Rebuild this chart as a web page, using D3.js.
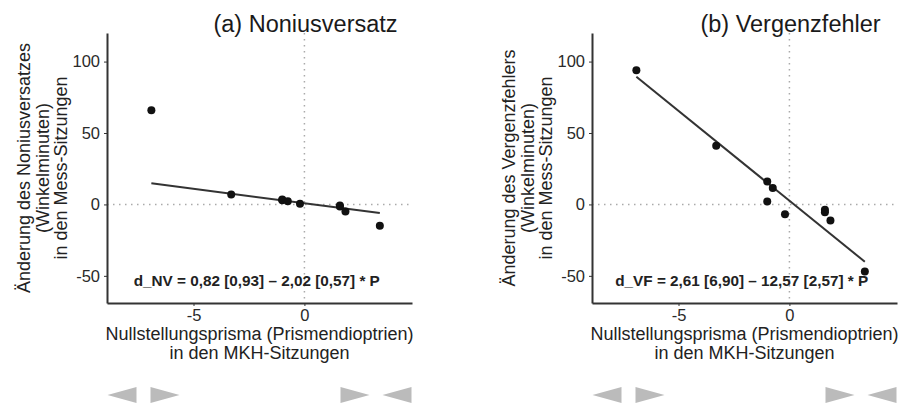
<!DOCTYPE html>
<html>
<head>
<meta charset="utf-8">
<script src="https://cdn.jsdelivr.net/npm/d3@7"></script>
<style>
  body { margin: 0; background: #fff; }
  text { font-family: "Liberation Sans", Arial, sans-serif; }
</style>
</head>
<body>
<div id="chart"></div>
<script>
var width = 900;
var height = 403;

// Data
var prism = [-6.9, -3.3, -1.0, -1.0, -0.75, -0.2, 1.6, 1.6, 1.85, 3.4];
var dNV = [66, 7, 3.5, 3, 2.2, 0.5, -0.8, -1.5, -5, -15];
var dVF = [94, 41, 16, 2, 11.5, -6.8, -3.7, -5.5, -11.3, -47];

var panelTitles = ["(a) Noniusversatz", "(b) Vergenzfehler"];
var yTitles = [
  ["Änderung des Noniusversatzes", "(Winkelminuten)", "in den Mess-Sitzungen"],
  ["Änderung des Vergenzfehlers", "(Winkelminuten)", "in den Mess-Sitzungen"]
];
var xTitle = ["Nullstellungsprisma (Prismendioptrien)", "in den MKH-Sitzungen"];
var intercepts = [0.82, 2.61];
var slopes = [-2.02, -12.57];
var equations = [
  "d_NV = 0,82 [0,93] – 2,02 [0,57] * P",
  "d_VF = 2,61 [6,90] – 12,57 [2,57] * P"
];
var xTicks = [-5, 0];
var yTicks = [-50, 0, 50, 100];

var svg = d3.select("#chart")
  .append("svg")
  .attr("width", width)
  .attr("height", height);

var pw = 305, ph = 270;
var x = d3.scaleLinear().domain([-8.9, 4.85]).range([0, pw]);
var y = d3.scaleLinear().domain([-69, 120]).range([ph, 0]);
var fmt = function(d) { return String(d); };  // plain hyphen like the original

function drawPanel(i, values, left) {
  var g = svg.append("g").attr("transform", "translate(" + left + ",33)");

  // reference lines at 0
  g.append("line")
    .attr("x1", x(0)).attr("x2", x(0))
    .attr("y1", 0).attr("y2", ph)
    .attr("stroke", "#aaa").attr("stroke-width", 1.5)
    .attr("stroke-dasharray", "1.5,4.5");
  g.append("line")
    .attr("x1", 0).attr("x2", pw)
    .attr("y1", y(0)).attr("y2", y(0))
    .attr("stroke", "#aaa").attr("stroke-width", 1.5)
    .attr("stroke-dasharray", "1.5,4.5");

  // axes
  var ya = g.append("g")
    .call(d3.axisLeft(y).tickValues(yTicks).tickFormat(fmt).tickSize(3).tickSizeOuter(0).tickPadding(4));
  var xa = g.append("g")
    .attr("transform", "translate(0," + ph + ")")
    .call(d3.axisBottom(x).tickValues(xTicks).tickFormat(fmt).tickSize(3).tickSizeOuter(0).tickPadding(3));
  [ya, xa].forEach(function(a) {
    a.select(".domain").attr("stroke", "#333").attr("stroke-width", 2);
    a.selectAll(".tick line").attr("stroke", "#333");
    a.selectAll(".tick text").attr("fill", "#2a2a2a").style("font-size", "16.5px");
  });

  // regression line
  var ext = d3.extent(prism);
  g.append("line")
    .attr("x1", x(ext[0])).attr("y1", y(intercepts[i] + slopes[i] * ext[0]))
    .attr("x2", x(ext[1])).attr("y2", y(intercepts[i] + slopes[i] * ext[1]))
    .attr("stroke", "#333").attr("stroke-width", 2);

  // points
  g.selectAll("circle")
    .data(prism)
    .enter().append("circle")
      .attr("cx", function(d) { return x(d); })
      .attr("cy", function(d, j) { return y(values[j]); })
      .attr("r", 4)
      .attr("fill", "#111");

  // equation
  g.append("text")
    .attr("x", x(-2.15)).attr("y", 253)
    .attr("text-anchor", "middle")
    .attr("fill", "#222")
    .style("font-size", "15.3px").style("font-weight", "bold")
    .text(equations[i]);

  // title
  g.append("text")
    .attr("x", x(0.05)).attr("y", -1)
    .attr("text-anchor", "middle")
    .attr("fill", "#1a1a1a")
    .style("font-size", "23.5px")
    .text(panelTitles[i]);

  // x axis title
  g.selectAll(".xt")
    .data(xTitle)
    .enter().append("text")
      .attr("x", pw / 2).attr("y", function(d, j) { return 307 + j * 18.5; })
      .attr("text-anchor", "middle")
      .attr("fill", "#222")
      .style("font-size", "18px")
      .text(function(d) { return d; });

  // y axis title
  g.selectAll(".yt")
    .data(yTitles[i])
    .enter().append("text")
      .attr("transform", function(d, j) {
        return "translate(" + (-77 + j * 18.5) + "," + (ph / 2) + ") rotate(-90)";
      })
      .attr("text-anchor", "middle")
      .attr("fill", "#222")
      .style("font-size", "18px")
      .text(function(d) { return d; });

  // grey arrows under the panel
  var tri = [
    { cx: 15, dir: -1 }, { cx: 58, dir: 1 },
    { cx: 248, dir: 1 }, { cx: 290, dir: -1 }
  ];
  svg.selectAll(".arr" + i)
    .data(tri)
    .enter().append("path")
      .attr("d", function(d) {
        var cx = left + d.cx, cy = 395, w = 14.5, h = 8;
        return "M" + (cx + d.dir * w) + "," + cy +
               "L" + (cx - d.dir * w) + "," + (cy - h) +
               "L" + (cx - d.dir * w) + "," + (cy + h) + "Z";
      })
      .attr("fill", "#bbb");
}

drawPanel(0, dNV, 107);
drawPanel(1, dVF, 592);
</script>
</body>
</html>
